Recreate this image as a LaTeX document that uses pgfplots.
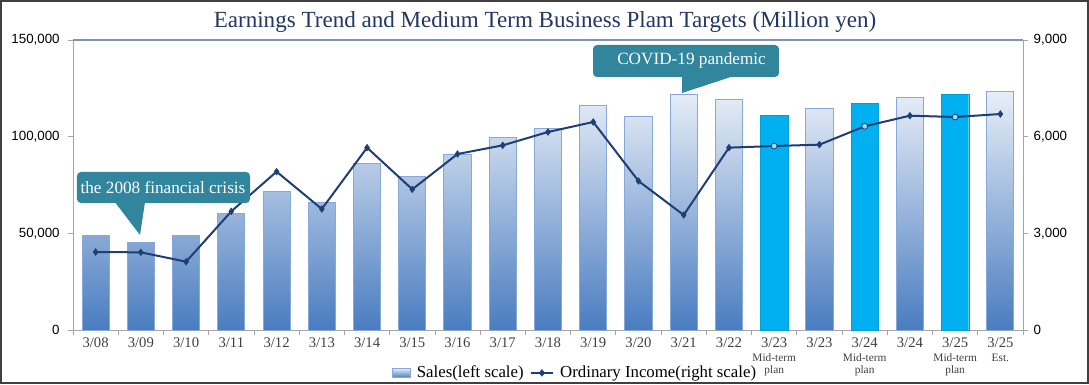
\documentclass[border=0pt]{standalone}
\usepackage{fontspec}
\setmainfont{Liberation Serif}
\setsansfont{Liberation Sans}
\usepackage{pgfplots}
\pgfplotsset{compat=1.18}
\definecolor{navy}{HTML}{1F3F72}
\definecolor{titlec}{HTML}{203864}
\definecolor{teal}{HTML}{31859C}
\definecolor{barTop}{HTML}{E8EEF7}
\definecolor{barBot}{HTML}{4A7CC0}
\definecolor{barEdge}{HTML}{86A8DA}
\definecolor{planc}{HTML}{00B0F0}
\definecolor{topline}{HTML}{7F93B6}
\definecolor{axgray}{HTML}{A6A6A6}
\definecolor{lblgray}{HTML}{404040}
\newcommand{\sub}[1]{{\fontsize{8.5}{9.5}\selectfont #1}}
\begin{document}
\begin{tikzpicture}
\useasboundingbox (-54.75pt,-41.25pt) rectangle (762pt,247.5pt);
% Sales (left)
\begin{axis}[
  at={(0,0)}, anchor=south west,
  scale only axis, width=712.5pt, height=217.5pt,
  xmin=-0.5, xmax=20.5, ymin=0, ymax=150000,
  axis x line*=bottom, axis y line*=left,
  axis line style={draw=axgray, line width=0.6pt},
  xtick={0,...,20},
  xticklabels={3/08,3/09,3/10,3/11,3/12,3/13,3/14,3/15,3/16,3/17,3/18,3/19,3/20,3/21,3/22,
    {3/23\\[-1.5pt]\sub{Mid-term}\\[-3.5pt]\sub{plan}},3/23,
    {3/24\\[-1.5pt]\sub{Mid-term}\\[-3.5pt]\sub{plan}},3/24,
    {3/25\\[-1.5pt]\sub{Mid-term}\\[-3.5pt]\sub{plan}},
    {3/25\\[-1.5pt]\sub{Est.}}},
  xticklabel style={align=center, anchor=north, font=\fontsize{11}{12}\selectfont, text=lblgray, yshift=1.5pt},
  major x tick style={draw=none},
  minor xtick={-0.5,0.5,...,20.5},
  minor x tick style={draw=axgray, line width=0.6pt},
  minor tick length=4pt,
  tick align=outside,
  ytick={0,50000,100000,150000},
  major y tick style={draw=axgray, line width=0.6pt},
  major tick length=4pt,
  yticklabel style={font=\fontsize{10}{11}\sffamily, xshift=-2.5pt},
  /pgf/number format/fixed,
  /pgf/number format/assume math mode=true,
  /pgf/number format/1000 sep={,},
  scaled y ticks=false,
  ybar, bar width=0.6, bar shift=0pt,
  clip=false,
]
\addplot[top color=barTop, bottom color=barBot, draw=barEdge, line width=0.7pt]
coordinates {(0,49000)(1,45500)(2,48800)(3,60100)(4,71700)(5,66000)(6,86200)(7,79600)
(8,90900)(9,99700)(10,104300)(11,115900)(12,110700)(13,121900)(14,119100)
(16,114700)(18,120500)(20,123300)};
\addplot[fill=planc, draw=planc!90!black, line width=0.3pt]
coordinates {(15,110900)(17,117200)(19,121900)};
\end{axis}
% Ordinary income (right)
\begin{axis}[
  at={(0,0)}, anchor=south west,
  scale only axis, width=712.5pt, height=217.5pt,
  xmin=-0.5, xmax=20.5, ymin=0, ymax=9000,
  axis x line=none, axis y line*=right,
  axis line style={draw=axgray, line width=0.6pt},
  ytick={0,3000,6000,9000},
  major y tick style={draw=axgray, line width=0.6pt},
  major tick length=4pt, tick align=outside,
  yticklabel style={font=\fontsize{10}{11}\sffamily, xshift=0.5pt},
  /pgf/number format/fixed,
  /pgf/number format/assume math mode=true,
  /pgf/number format/1000 sep={,},
  scaled y ticks=false,
  clip=false,
  legend columns=2,
  legend style={at={(0.529,-0.148)}, anchor=center, draw=none, fill=none,
    font=\fontsize{12.6}{14}\selectfont, column sep=3pt, inner sep=0pt},
]
\addlegendimage{legend image code/.code={\draw[top color=barTop, bottom color=barBot, draw=barEdge, line width=0.4pt] (0pt,-3.5pt) rectangle (13pt,3.5pt);}}
\addlegendentry{Sales(left scale)}
\addlegendimage{legend image code/.code={\draw[navy, line width=1.4pt] (0pt,0pt) -- (16pt,0pt); \fill[navy] (8pt,2.5pt) -- (10pt,0pt) -- (8pt,-2.5pt) -- (6pt,0pt) -- cycle;}}
\addlegendentry{Ordinary Income(right scale)}
\addplot[navy, line width=1.5pt, forget plot]
coordinates {(0,2420)(1,2410)(2,2120)(3,3683)(4,4914)(5,3755)(6,5659)(7,4366)
(8,5462)(9,5731)(10,6145)(11,6455)(12,4624)(13,3569)(14,5659)(15,5710)
(16,5752)(17,6321)(18,6651)(19,6610)(20,6703)};
\addplot[only marks, mark=diamond*, mark size=2.5pt, mark options={fill=navy, draw=navy}, forget plot]
coordinates {(0,2420)(1,2410)(2,2120)(3,3683)(4,4914)(5,3755)(6,5659)(7,4366)
(8,5462)(9,5731)(10,6145)(11,6455)(12,4624)(13,3569)(14,5659)
(16,5752)(18,6651)(20,6703)};
\addplot[only marks, mark=*, mark size=2.2pt, mark options={fill=planc!40, draw=navy, line width=0.6pt}, forget plot]
coordinates {(15,5710)(17,6321)(19,6610)};
\end{axis}
% plot area top border
\draw[topline, line width=1.4pt] (0pt,217.5pt) -- (712.5pt,217.5pt);
% title
\node[anchor=base, text=titlec, font=\fontsize{17.3}{20}\selectfont] at (354pt,226.5pt)
  {Earnings Trend and Medium Term Business Plam Targets (Million yen)};
% callouts
\fill[teal, rounded corners=3pt] (3pt,95.25pt) rectangle (132.75pt,118.5pt);
\fill[teal] (31.5pt,95.8pt) -- (50.25pt,71.25pt) -- (54pt,95.8pt) -- cycle;
\node[text=white, font=\fontsize{12.9}{14}\selectfont] at (67.5pt,106.9pt) {the 2008 financial crisis};
\fill[teal, rounded corners=3pt] (390pt,189.75pt) rectangle (529.5pt,213.75pt);
\fill[teal] (456.75pt,190.3pt) -- (456.75pt,177.75pt) -- (495pt,190.3pt) -- cycle;
\node[text=white, font=\fontsize{12.9}{14}\selectfont] at (463.9pt,202.3pt) {COVID-19 pandemic};
% frame
\draw[black!75, line width=1.5pt] (-54pt,-39.75pt) rectangle (761.25pt,246.75pt);
\end{tikzpicture}
\end{document}
